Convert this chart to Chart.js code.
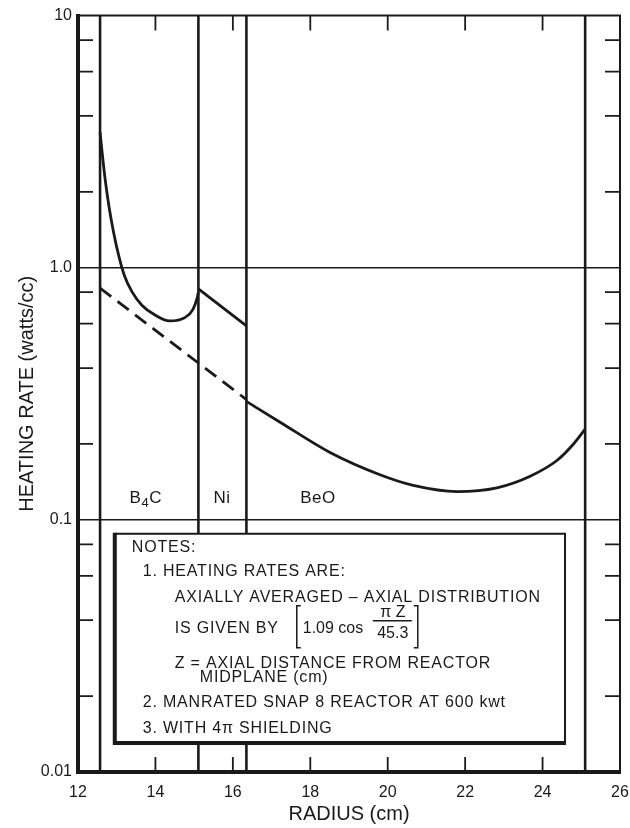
<!DOCTYPE html>
<html>
<head>
<meta charset="utf-8">
<title>Heating rate vs radius</title>
<script src="https://cdn.jsdelivr.net/npm/chart.js@4.4.1/dist/chart.umd.min.js"></script>
<style>
  html, body { margin: 0; padding: 0; background: #fff; }
  #wrap { width: 630px; height: 828px; }
</style>
</head>
<body>
<div id="wrap"><canvas id="heatChart" width="630" height="828"></canvas></div>
<script>
// heating rate (watts/cc) against radius (cm), one array pair per region
const b4cRadius = [12.57, 12.62, 12.70, 12.80, 12.92, 13.05, 13.20, 13.40, 13.65, 13.95, 14.37, 14.76, 14.97, 15.08, 15.11];
const b4cRate   = [3.45, 2.9, 2.25, 1.75, 1.38, 1.12, 0.93, 0.80, 0.71, 0.655, 0.615, 0.634, 0.684, 0.761, 0.80];

const niRadius = [15.11, 16.35];
const niRate   = [0.825, 0.588];

// dashed trend through the B4C and Ni layers
const dashRadius = [12.57, 16.35];
const dashRate   = [0.83, 0.30];

const beoRadius = [16.35, 17.22, 18.51, 19.80, 20.66, 21.79, 22.82, 23.68, 24.37, 24.80, 25.10];
const beoRate   = [0.295, 0.244, 0.185, 0.151, 0.137, 0.1295, 0.134, 0.149, 0.172, 0.200, 0.229];

// layer boundaries (cm)
const boundaries = [12.57, 15.11, 16.35, 25.1];
const regionCenters = [13.75, 15.72, 18.2];
const regionLabelRate = 0.122;

// axes
const xTicks = [12, 14, 16, 18, 20, 22, 24, 26];
const yMajorTicks = [0.01, 0.1, 1, 10];
const yTickLabels = ['0.01', '0.1', '1.0', '10'];
const yMinorTicks = [0.02, 0.04, 0.06, 0.08, 0.2, 0.4, 0.6, 0.8, 2, 4, 6, 8];

const FONT = '"Liberation Sans", Arial, sans-serif';
const INK = '#1a1a1a';

function pts(xs, ys) {
  return xs.map((x, i) => ({ x: x, y: ys[i] }));
}

const curveStyle = {
  borderColor: INK,
  borderWidth: 2.8,
  pointRadius: 0,
  fill: false,
  cubicInterpolationMode: 'monotone'
};

const datasets = [
  Object.assign({ label: 'B4C', data: pts(b4cRadius, b4cRate) }, curveStyle),
  Object.assign({ label: 'Ni', data: pts(niRadius, niRate) }, curveStyle),
  Object.assign({ label: 'BeO', data: pts(beoRadius, beoRate) }, curveStyle),
  Object.assign({ label: 'trend', data: pts(dashRadius, dashRate) }, curveStyle, { borderDash: [14, 8], borderCapStyle: 'butt' })
];

// vertical boundary lines, bottom to top of the plot
boundaries.forEach(b => {
  datasets.push({
    label: 'boundary',
    data: [{ x: b, y: 0.01 }, { x: b, y: 10 }],
    borderColor: INK,
    borderWidth: 2.6,
    pointRadius: 0
  });
});

// frame, inward ticks, region names and the notes panel
const decorations = {
  id: 'decorations',
  afterDatasetsDraw(chart) {
    const ctx = chart.ctx;
    const xs = chart.scales.x;
    const ys = chart.scales.y;
    const area = chart.chartArea;

    ctx.save();
    ctx.strokeStyle = INK;
    ctx.fillStyle = INK;

    // top and right border
    ctx.lineWidth = 2;
    ctx.beginPath();
    ctx.moveTo(area.left, area.top);
    ctx.lineTo(area.right, area.top);
    ctx.lineTo(area.right, area.bottom);
    ctx.stroke();

    // minor ticks on the y axes, pointing in
    ctx.lineWidth = 1.8;
    yMinorTicks.forEach(v => {
      const py = ys.getPixelForValue(v);
      ctx.beginPath();
      ctx.moveTo(area.left, py);
      ctx.lineTo(area.left + 15, py);
      ctx.moveTo(area.right, py);
      ctx.lineTo(area.right - 15, py);
      ctx.stroke();
    });

    // x ticks on top and bottom, pointing in
    xTicks.slice(1, -1).forEach(v => {
      const px = xs.getPixelForValue(v);
      ctx.beginPath();
      ctx.moveTo(px, area.top);
      ctx.lineTo(px, area.top + 15);
      ctx.moveTo(px, area.bottom);
      ctx.lineTo(px, area.bottom - 15);
      ctx.stroke();
    });

    // region names
    const ly = ys.getPixelForValue(regionLabelRate);
    ctx.textBaseline = 'middle';
    ctx.letterSpacing = '0.5px';
    ctx.font = '17px ' + FONT;
    const cx = xs.getPixelForValue(regionCenters[0]);
    const wB = ctx.measureText('B').width;
    const wC = ctx.measureText('C').width;
    ctx.font = '13px ' + FONT;
    const w4 = ctx.measureText('4').width;
    const sx = cx - (wB + w4 + wC) / 2;
    ctx.textAlign = 'left';
    ctx.font = '17px ' + FONT;
    ctx.fillText('B', sx, ly);
    ctx.font = '13px ' + FONT;
    ctx.fillText('4', sx + wB, ly + 5);
    ctx.font = '17px ' + FONT;
    ctx.fillText('C', sx + wB + w4, ly);
    ctx.textAlign = 'center';
    ctx.fillText('Ni', xs.getPixelForValue(regionCenters[1]), ly);
    ctx.fillText('BeO', xs.getPixelForValue(regionCenters[2]), ly);

    // notes panel
    const bl = xs.getPixelForValue(12.95);
    const br = xs.getPixelForValue(24.58);
    const bt = ys.getPixelForValue(0.0881);
    const bb = ys.getPixelForValue(0.01303);
    ctx.fillStyle = '#fff';
    ctx.fillRect(bl, bt, br - bl, bb - bt);
    ctx.fillStyle = INK;
    ctx.lineWidth = 2;
    ctx.beginPath();
    ctx.moveTo(bl, bt);
    ctx.lineTo(br, bt);
    ctx.lineTo(br, bb);
    ctx.stroke();
    ctx.lineWidth = 4;
    ctx.beginPath();
    ctx.moveTo(bl, bt - 1);
    ctx.lineTo(bl, bb);
    ctx.lineTo(br + 1, bb);
    ctx.stroke();

    const lines = [
      ['NOTES:', 17, 14],
      ['1. HEATING RATES ARE:', 28, 38],
      ['AXIALLY AVERAGED \u2013 AXIAL DISTRIBUTION', 60, 64],
      ['IS GIVEN BY', 60, 95],
      ['Z = AXIAL DISTANCE FROM REACTOR', 60, 130],
      ['MIDPLANE (cm)', 85, 144],
      ['2. MANRATED SNAP 8 REACTOR AT 600 kwt', 28, 169],
      ['3. WITH 4\u03c0 SHIELDING', 28, 195]
    ];
    ctx.textAlign = 'left';
    ctx.font = '16px ' + FONT;
    ctx.letterSpacing = '0.8px';
    lines.forEach(l => ctx.fillText(l[0], bl + l[1], bt + l[2]));

    // the bracketed cosine expression
    ctx.lineWidth = 1.5;
    ctx.beginPath();
    ctx.moveTo(bl + 186, bt + 72);
    ctx.lineTo(bl + 182, bt + 72);
    ctx.lineTo(bl + 182, bt + 114);
    ctx.lineTo(bl + 186, bt + 114);
    ctx.moveTo(bl + 299, bt + 72);
    ctx.lineTo(bl + 303, bt + 72);
    ctx.lineTo(bl + 303, bt + 114);
    ctx.lineTo(bl + 299, bt + 114);
    ctx.moveTo(bl + 258, bt + 87);
    ctx.lineTo(bl + 297, bt + 87);
    ctx.stroke();
    ctx.letterSpacing = '0px';
    ctx.fillText('1.09 cos', bl + 188, bt + 95);
    ctx.textAlign = 'center';
    ctx.fillText('\u03c0 Z', bl + 278, bt + 79);
    ctx.fillText('45.3', bl + 278, bt + 100);

    ctx.restore();
  }
};

new Chart(document.getElementById('heatChart'), {
  type: 'line',
  data: { datasets: datasets },
  options: {
    responsive: false,
    animation: false,
    events: [],
    layout: { padding: { top: 14, right: 10, left: 0, bottom: 0 } },
    plugins: {
      legend: { display: false },
      tooltip: { enabled: false }
    },
    scales: {
      x: {
        type: 'linear',
        min: 12,
        max: 26,
        afterFit: s => {
          s.height = 56;
          s.paddingLeft = 0;
          s.paddingRight = 0;
        },
        grid: { display: false },
        border: { display: true, color: INK, width: 4 },
        ticks: {
          stepSize: 2,
          padding: 3,
          color: INK,
          font: { family: FONT, size: 16 },
          callback: v => v
        },
        title: {
          display: true,
          text: 'RADIUS (cm)',
          color: INK,
          font: { family: FONT, size: 20 },
          padding: { top: 0, bottom: 2 }
        }
      },
      y: {
        type: 'logarithmic',
        min: 0.01,
        max: 10,
        afterFit: s => { s.width = 78; },
        afterBuildTicks: s => { s.ticks = yMajorTicks.map(v => ({ value: v, major: true })); },
        grid: {
          drawTicks: false,
          lineWidth: 1.5,
          color: c => (c.tick && (c.tick.value === 1 || c.tick.value === 0.1)) ? INK : 'rgba(0,0,0,0)'
        },
        border: { display: true, color: INK, width: 4 },
        ticks: {
          padding: 6,
          color: INK,
          font: { family: FONT, size: 16 },
          callback: (v, i) => yTickLabels[i]
        },
        title: {
          display: true,
          text: 'HEATING RATE (watts/cc)',
          color: INK,
          font: { family: FONT, size: 20 },
          padding: { top: 15, bottom: 0 }
        }
      }
    }
  },
  plugins: [decorations]
});
</script>
</body>
</html>
